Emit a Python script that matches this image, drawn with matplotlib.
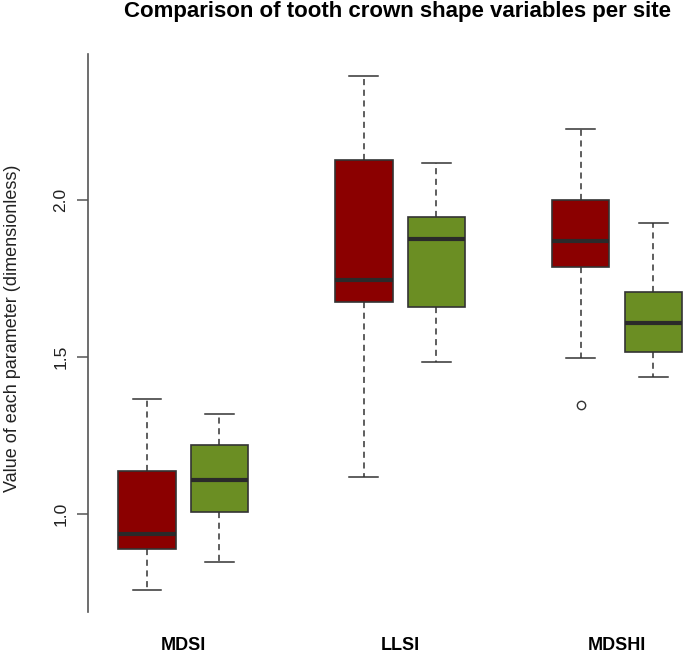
import numpy as np
import matplotlib
matplotlib.use("Agg")
import matplotlib.pyplot as plt

plt.rcParams['font.family'] = ['Liberation Sans', 'DejaVu Sans']

# values (two series per site: red, green)
sites = ["MDSI", "LLSI", "MDSHI"]
red_whislo = [0.758, 1.118, 1.497]
red_q1 = [0.889, 1.675, 1.787]
red_med = [0.936, 1.745, 1.868]
red_q3 = [1.137, 2.128, 1.999]
red_whishi = [1.366, 2.396, 2.225]
red_fliers = [[], [], [1.348]]

green_whislo = [0.847, 1.485, 1.437]
green_q1 = [1.006, 1.660, 1.515]
green_med = [1.108, 1.876, 1.608]
green_q3 = [1.220, 1.947, 1.708]
green_whishi = [1.318, 2.118, 1.928]
green_fliers = [[], [], []]

red_col = "#8B0000"
green_col = "#6B8E23"

fig = plt.figure(figsize=(6.85, 6.55), dpi=100)
ax = fig.add_axes([88 / 685, (655 - 612) / 655, 597 / 685, 558 / 655])

stats = []
positions = []
colors = []
for i in range(len(sites)):
    stats.append(dict(med=red_med[i], q1=red_q1[i], q3=red_q3[i],
                      whislo=red_whislo[i], whishi=red_whishi[i], fliers=red_fliers[i]))
    positions.append(3 * i + 1)
    colors.append(red_col)
    stats.append(dict(med=green_med[i], q1=green_q1[i], q3=green_q3[i],
                      whislo=green_whislo[i], whishi=green_whishi[i], fliers=green_fliers[i]))
    positions.append(3 * i + 2)
    colors.append(green_col)

bp = ax.bxp(stats, positions=positions, widths=0.79, patch_artist=True,
            showfliers=True,
            boxprops=dict(edgecolor="#333333", linewidth=1.2),
            medianprops=dict(color="#2a2a2a", linewidth=3),
            whiskerprops=dict(color="#333333", linewidth=1.1, linestyle=(0, (4, 3))),
            capprops=dict(color="#333333", linewidth=1.1),
            flierprops=dict(marker="o", markerfacecolor="white", markeredgecolor="#333333",
                            markersize=6, markeredgewidth=1.0))
for patch, c in zip(bp["boxes"], colors):
    patch.set_facecolor(c)
for cap in bp["caps"]:
    x = cap.get_xdata()
    mid = (x[0] + x[1]) / 2
    cap.set_xdata([mid - 0.2, mid + 0.2])

ax.set_xlim(0.184, 8.44)
ax.set_ylim(0.688, 2.465)

for s in ["top", "right", "bottom"]:
    ax.spines[s].set_visible(False)
ax.spines["left"].set_color("#555555")
ax.spines["left"].set_linewidth(1.2)

ax.set_yticks([1.0, 1.5, 2.0])
ax.set_yticklabels(["1.0", "1.5", "2.0"], rotation=90, va="center", fontsize=12.5, color="#222222")
ax.tick_params(axis="y", length=8, width=1.1, color="#555555", pad=6)

ax.set_xticks([1.5, 4.5, 7.5])
ax.set_xticklabels(sites, fontsize=13, fontweight="bold")
ax.tick_params(axis="x", length=0, pad=18)

fig.text(398 / 685, 1 - 12 / 655, "Comparison of tooth crown shape variables per site",
         ha="center", va="center", fontsize=16, fontweight="bold")
fig.text(13 / 685, 1 - 328 / 655, "Value of each parameter (dimensionless)",
         ha="center", va="center", rotation=90, fontsize=13, color="#222222")

fig.savefig("out.png", dpi=100)
